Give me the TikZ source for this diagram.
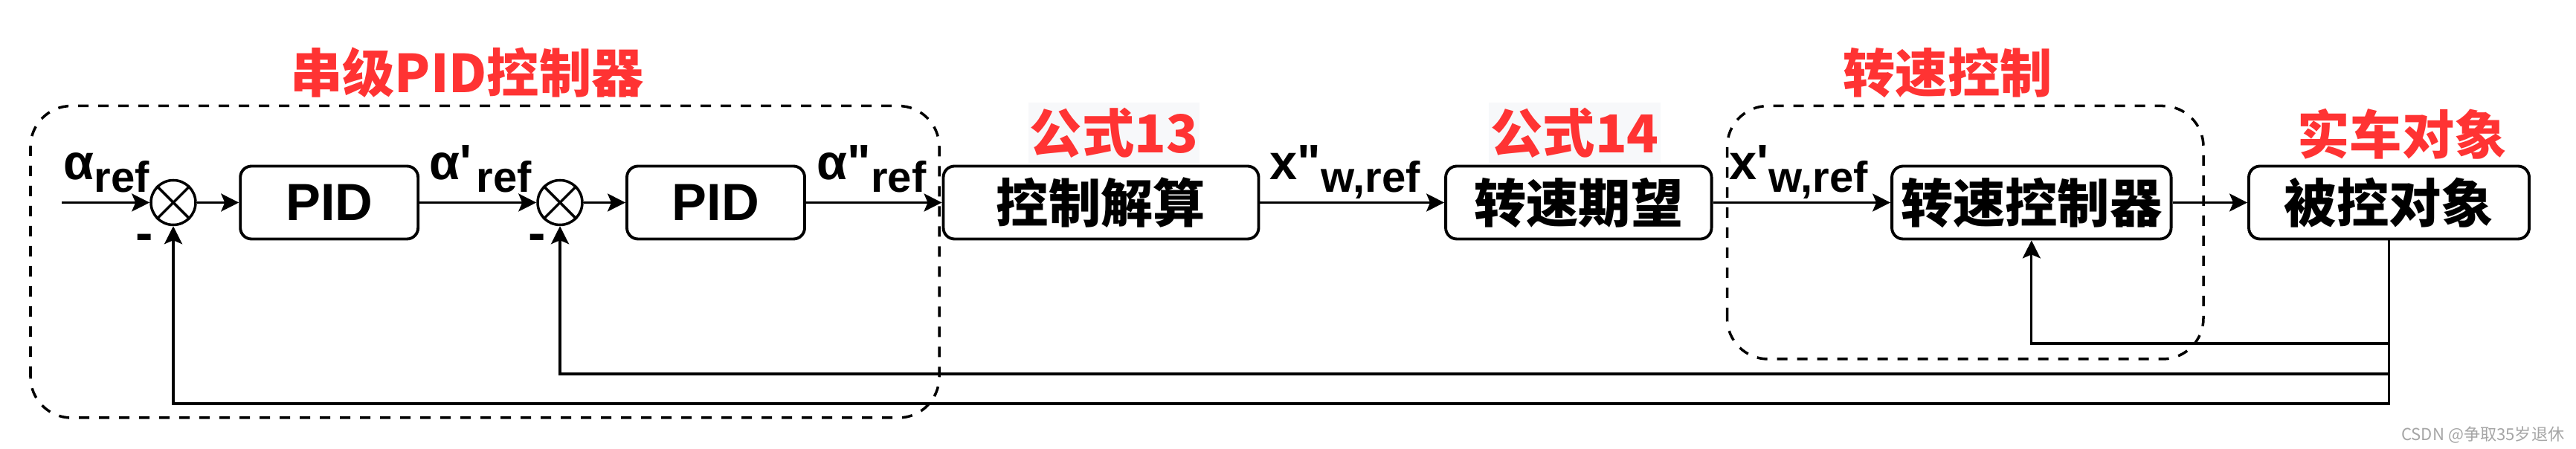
\documentclass[tikz,border=0pt]{standalone}
\usepackage{fontspec}
\setmainfont{Liberation Sans}
\newfontfamily\labfont{Liberation Sans}
\newfontfamily\cjk{Noto Sans CJK SC}
\usepackage{tikz}
\usetikzlibrary{arrows.meta}
\definecolor{titlered}{RGB}{255,51,51}
\definecolor{notebg}{RGB}{247,248,250}
\definecolor{markgray}{RGB}{165,165,165}
\newcommand{\sig}[2]{#1\raisebox{-0.165cm}{\fontsize{16.5}{18}\selectfont #2}}

\begin{document}
\begin{tikzpicture}[
  block/.style={draw, line width=1.1pt, rounded corners=0.15cm, minimum height=0.98cm, inner sep=0pt, font=\cjk\bfseries\fontsize{20}{24}\selectfont},
  pidfont/.style={font=\labfont\bfseries\fontsize{20}{24}\selectfont},
  sumnode/.style={draw, circle, line width=1pt, minimum size=0.6cm, inner sep=0pt},
  lbl/.style={anchor=base west, inner sep=0pt, font=\labfont\bfseries\fontsize{19}{22}\selectfont},
  title/.style={text=titlered, inner sep=0pt, font=\cjk\bfseries\fontsize{20}{24}\selectfont},
  arr/.style={line width=0.9pt, -{Stealth[length=0.24cm, width=0.24cm, inset=0.05cm]}},
  group/.style={line width=1pt, dash pattern=on 0.14cm off 0.13cm, rounded corners=0.55cm}
]
  \useasboundingbox (0,0) rectangle (34.64,6.04);

  \draw[group] (0.41,0.42) rectangle (12.63,4.615);
  \draw[group] (23.225,1.21) rectangle (29.63,4.615);

  \coordinate (in) at (0.83,3.315);
  \node[sumnode] (sum1) at (2.33,3.315) {};
  \node[block, pidfont, minimum width=2.39cm] (pid1) at (4.427,3.315) {PID};
  \node[sumnode] (sum2) at (7.53,3.315) {};
  \node[block, pidfont, minimum width=2.39cm] (pid2) at (9.625,3.315) {PID};
  \node[block, minimum width=4.24cm] (calc) at (14.805,3.315) {控制解算};
  \node[block, minimum width=3.575cm] (wref) at (21.228,3.315) {转速期望};
  \node[block, minimum width=3.755cm] (wctl) at (27.318,3.315) {转速控制器};
  \node[block, minimum width=3.77cm] (plant) at (32.125,3.315) {被控对象};

  \foreach \s in {sum1,sum2}
    \draw[line width=1pt] (\s.45) -- (\s.225) (\s.135) -- (\s.315);

  \draw[arr] (in) -- (sum1);
  \draw[arr] (sum1) -- (pid1);
  \draw[arr] (pid1) -- (sum2);
  \draw[arr] (sum2) -- (pid2);
  \draw[arr] (pid2) -- (calc);
  \draw[arr] (calc) -- (wref);
  \draw[arr] (wref) -- (wctl);
  \draw[arr] (wctl) -- (plant);

  \coordinate (fbC) at (0,1.42);
  \coordinate (fbB) at (0,1.01);
  \coordinate (fbA) at (0,0.61);
  \draw[arr] (plant.south) |- (wctl.south |- fbC) -- (wctl.south);
  \draw[arr] (plant.south) |- (sum2.south |- fbB) -- (sum2.south);
  \draw[arr] (plant.south) |- (sum1.south |- fbA) -- (sum1.south);

  \node[lbl] (sA) at (0.85,3.62) {\sig{α}{ref}};
  \node[lbl] (sB) at (5.77,3.62) {\sig{α'\hspace{0.06cm}}{ref}};
  \node[lbl] (sC) at (10.98,3.62) {\sig{α"}{ref}};
  \node[lbl] (sD) at (17.07,3.62) {\sig{x"}{w,ref}};
  \node[lbl] (sE) at (23.25,3.62) {\sig{x'}{w,ref}};

  \node[lbl, anchor=base, font=\labfont\bfseries\fontsize{20}{24}\selectfont] (m1) at (1.945,2.66) {-};
  \node[lbl, anchor=base, font=\labfont\bfseries\fontsize{20}{24}\selectfont] (m2) at (7.225,2.66) {-};

  \node[title] (tcas) at (6.28,5.06) {串级PID控制器};
  \node[title] (tspd) at (26.19,5.06) {转速控制};
  \node[title, fill=notebg, inner xsep=0.02cm, minimum height=0.82cm] (eq13) at (14.98,4.25) {公式13};
  \node[title, fill=notebg, inner xsep=0.02cm, minimum height=0.82cm] (eq14) at (21.175,4.25) {公式14};
  \node[title] (tcar) at (32.3,4.24) {实车对象};

  \node[anchor=east, inner sep=0pt, text=markgray, font=\cjk\fontsize{6.3}{7}\selectfont] (wm) at (34.49,0.19) {CSDN @争取35岁退休};
\end{tikzpicture}
\end{document}
